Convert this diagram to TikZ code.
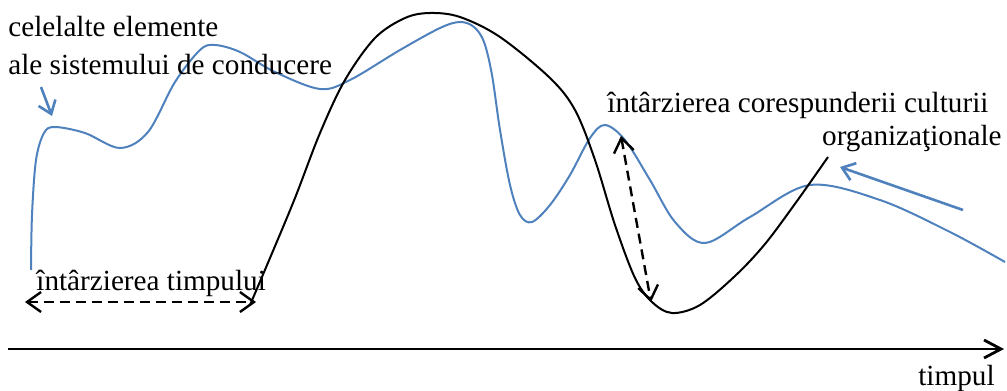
\documentclass[tikz,border=0pt]{standalone}
\usepackage{fontspec}
\setmainfont{Liberation Serif}
\usepackage{tikz}
\usetikzlibrary{arrows.meta}
\definecolor{curbablue}{HTML}{4F81BD}

\begin{document}
\begin{tikzpicture}[x=0.5pt, y=-0.5pt, >={Straight Barb[length=7pt, width=10pt]},
  eticheta/.style={font=\fontsize{14.6}{19}\selectfont, inner sep=0pt}]

\useasboundingbox (0,0) rectangle (1007,391);

% Axa timpului
\coordinate (ax0) at (8,349);
\coordinate (ax1) at (1004,349);
\draw[-{Straight Barb[length=8.5pt, width=9pt]}, line width=1.4pt] (ax0) -- (ax1);
\node[eticheta, anchor=base east] (timp) at (995,385) {timpul};

% Curba albastra
\draw[curbablue, line width=1pt]
    plot[smooth, tension=0.55] coordinates {
    (31,270) (32,215) (36,160) (44,133) (55,127) (85,133) (120,148)
    (148,132) (175,82) (200,50) (215,45) (240,52) (275,72) (320,89)
    (350,80) (400,50) (440,28) (460,22) (474,27) (484,42) (492,75)
    (500,130) (510,185) (520,215) (532,222) (550,205) (570,175) (590,138)
    (605,125) (625,140) (650,180) (675,222) (705,243) (750,217)
    (810,185) (880,200) (950,232) (1005,262)};

% Curba neagra
\draw[black, line width=1pt]
    plot[smooth, tension=0.55] coordinates {
    (250,305) (270,258) (295,198) (320,133) (345,80) (375,38) (405,18)
    (430,13) (460,17) (500,37) (550,78) (575,110) (595,160) (615,225)
    (635,278) (652,302) (672,313) (700,305) (735,276) (765,244) (797,201)
    (828,157)};

% Texte
\node[eticheta, anchor=base west] (elem1) at (8,36) {celelalte elemente};
\node[eticheta, anchor=base west] (elem2) at (8,74) {ale sistemului de conducere};
\node[eticheta, anchor=base west] (intt) at (36,290) {întârzierea timpului};
\node[eticheta, anchor=base west] (coresp1) at (607,112) {întârzierea corespunderii culturii};
\node[eticheta, anchor=base east] (coresp2) at (1002,145) {organizaţionale};

% Sageti albastre
\coordinate (sa0) at (41,87);
\coordinate (sa1) at (52,116);
\draw[-{Straight Barb[length=6pt, width=9pt]}, curbablue, line width=1.3pt] (sa0) -- (sa1);

\coordinate (sb0) at (963,210);
\coordinate (sb1) at (840,167);
\draw[-{Straight Barb[length=6pt, width=9pt]}, curbablue, line width=1.3pt] (sb0) -- (sb1);

% Intarzieri
\coordinate (ta) at (25,302);
\coordinate (tb) at (256,302);
\draw[<->, dashed, line width=1.2pt, dash pattern=on 5pt off 3pt] (ta) -- (tb);

\coordinate (ca) at (621,136);
\coordinate (cb) at (651,302);
\draw[<->, dashed, line width=1.2pt, dash pattern=on 5pt off 3pt] (ca) -- (cb);

\end{tikzpicture}
\end{document}
